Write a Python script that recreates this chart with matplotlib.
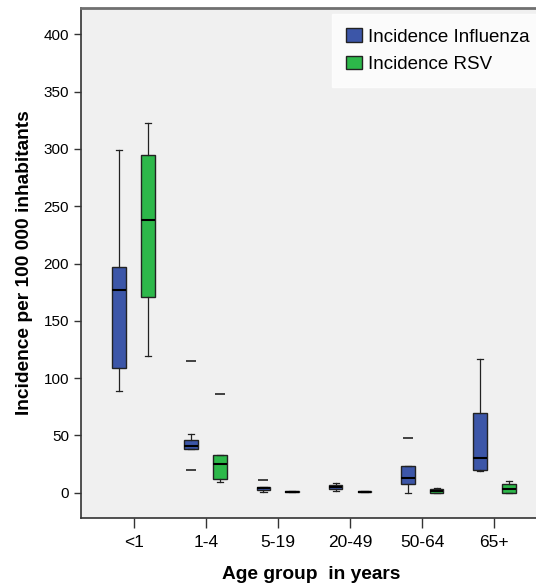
import matplotlib.pyplot as plt
from matplotlib.patches import Patch

plt.rcParams['font.family'] = ['Liberation Sans', 'DejaVu Sans']

groups = ['<1', '1-4', '5-19', '20-49', '50-64', '65+']

# Influenza: whisker low, Q1, median, Q3, whisker high, outliers
flu_wlo = [89, 37.8, 0.3, 1.2, 0, 18.6]
flu_q1 = [109, 37.8, 2.6, 3.5, 7.3, 20]
flu_med = [177, 40.7, 3.8, 5, 13.1, 30]
flu_q3 = [197, 45.7, 4.7, 6.4, 23.6, 69.2]
flu_whi = [299, 51, 4.7, 8.5, 23.6, 116.6]
flu_out = [[], [115, 19.5], [11], [], [47.4], []]

# RSV
rsv_wlo = [119.5, 9.6, 0.5, 0.4, 0, 0]
rsv_q1 = [171, 11.7, 0.5, 0.4, 0, 0]
rsv_med = [238, 24.8, 1, 1, 1.5, 3.2]
rsv_q3 = [294.8, 32.6, 1.5, 1.6, 2.9, 7.9]
rsv_whi = [322.7, 32.6, 1.5, 2, 4.4, 10.2]
rsv_out = [[], [86], [], [], [], []]

blue = '#3c56a8'
green = '#2db84a'


def make_stats(wlo, q1, med, q3, whi, out):
    return [dict(whislo=a, q1=b, med=c, q3=d, whishi=e, fliers=f)
            for a, b, c, d, e, f in zip(wlo, q1, med, q3, whi, out)]


fig = plt.figure(figsize=(5.36, 5.85), dpi=100)
ax = fig.add_axes([0.151, 0.1145, 0.86, 0.8715])
ax.set_facecolor('#f0f0f0')

for stats, offset, color in [
        (make_stats(flu_wlo, flu_q1, flu_med, flu_q3, flu_whi, flu_out), -0.2, blue),
        (make_stats(rsv_wlo, rsv_q1, rsv_med, rsv_q3, rsv_whi, rsv_out), 0.2, green)]:
    pos = [i + offset for i in range(len(groups))]
    ax.bxp(stats, positions=pos, widths=0.19, patch_artist=True, showfliers=True,
           boxprops=dict(facecolor=color, edgecolor='#222222', linewidth=1),
           medianprops=dict(color='black', linewidth=1.5),
           whiskerprops=dict(color='#222222', linewidth=0.9),
           capprops=dict(color='#222222', linewidth=0.9), capwidths=0.085,
           flierprops=dict(marker='_', markersize=7, markeredgewidth=1.3,
                           markeredgecolor='#333333'),
           manage_ticks=False)

ax.set_xlim(-0.73, 5.66)
ax.set_ylim(-22, 422.7)
ax.set_xticks(range(len(groups)))
ax.set_xticklabels(groups, fontsize=12.5)
ax.set_yticks(range(0, 401, 50))
ax.tick_params(axis='y', labelsize=11, length=5, width=1, color='#333333')
ax.tick_params(axis='x', length=7, width=1, pad=5.5, color='#333333')

for s in ['left', 'bottom']:
    ax.spines[s].set_color('#333333')
    ax.spines[s].set_linewidth(1.2)
ax.spines['top'].set_color('#707070')
ax.spines['top'].set_linewidth(2)
ax.spines['right'].set_visible(False)

ax.set_xlabel('Age group  in years', fontsize=13.8, fontweight='bold', labelpad=11)
ax.set_ylabel('Incidence per 100 000 inhabitants', fontsize=13.8, fontweight='bold',
              labelpad=8)

handles = [Patch(facecolor=blue, edgecolor='#222222', label='Incidence Influenza'),
           Patch(facecolor=green, edgecolor='#222222', label='Incidence RSV')]
leg = ax.legend(handles=handles, loc='upper left', bbox_to_anchor=(0.545, 0.988),
                fontsize=13.5, frameon=True, fancybox=False, handlelength=0.85,
                handleheight=0.75, handletextpad=0.3, borderpad=0.75,
                labelspacing=0.52, borderaxespad=0)
leg.get_frame().set_facecolor('white')
leg.get_frame().set_edgecolor('white')

fig.savefig('out.png', dpi=100)
